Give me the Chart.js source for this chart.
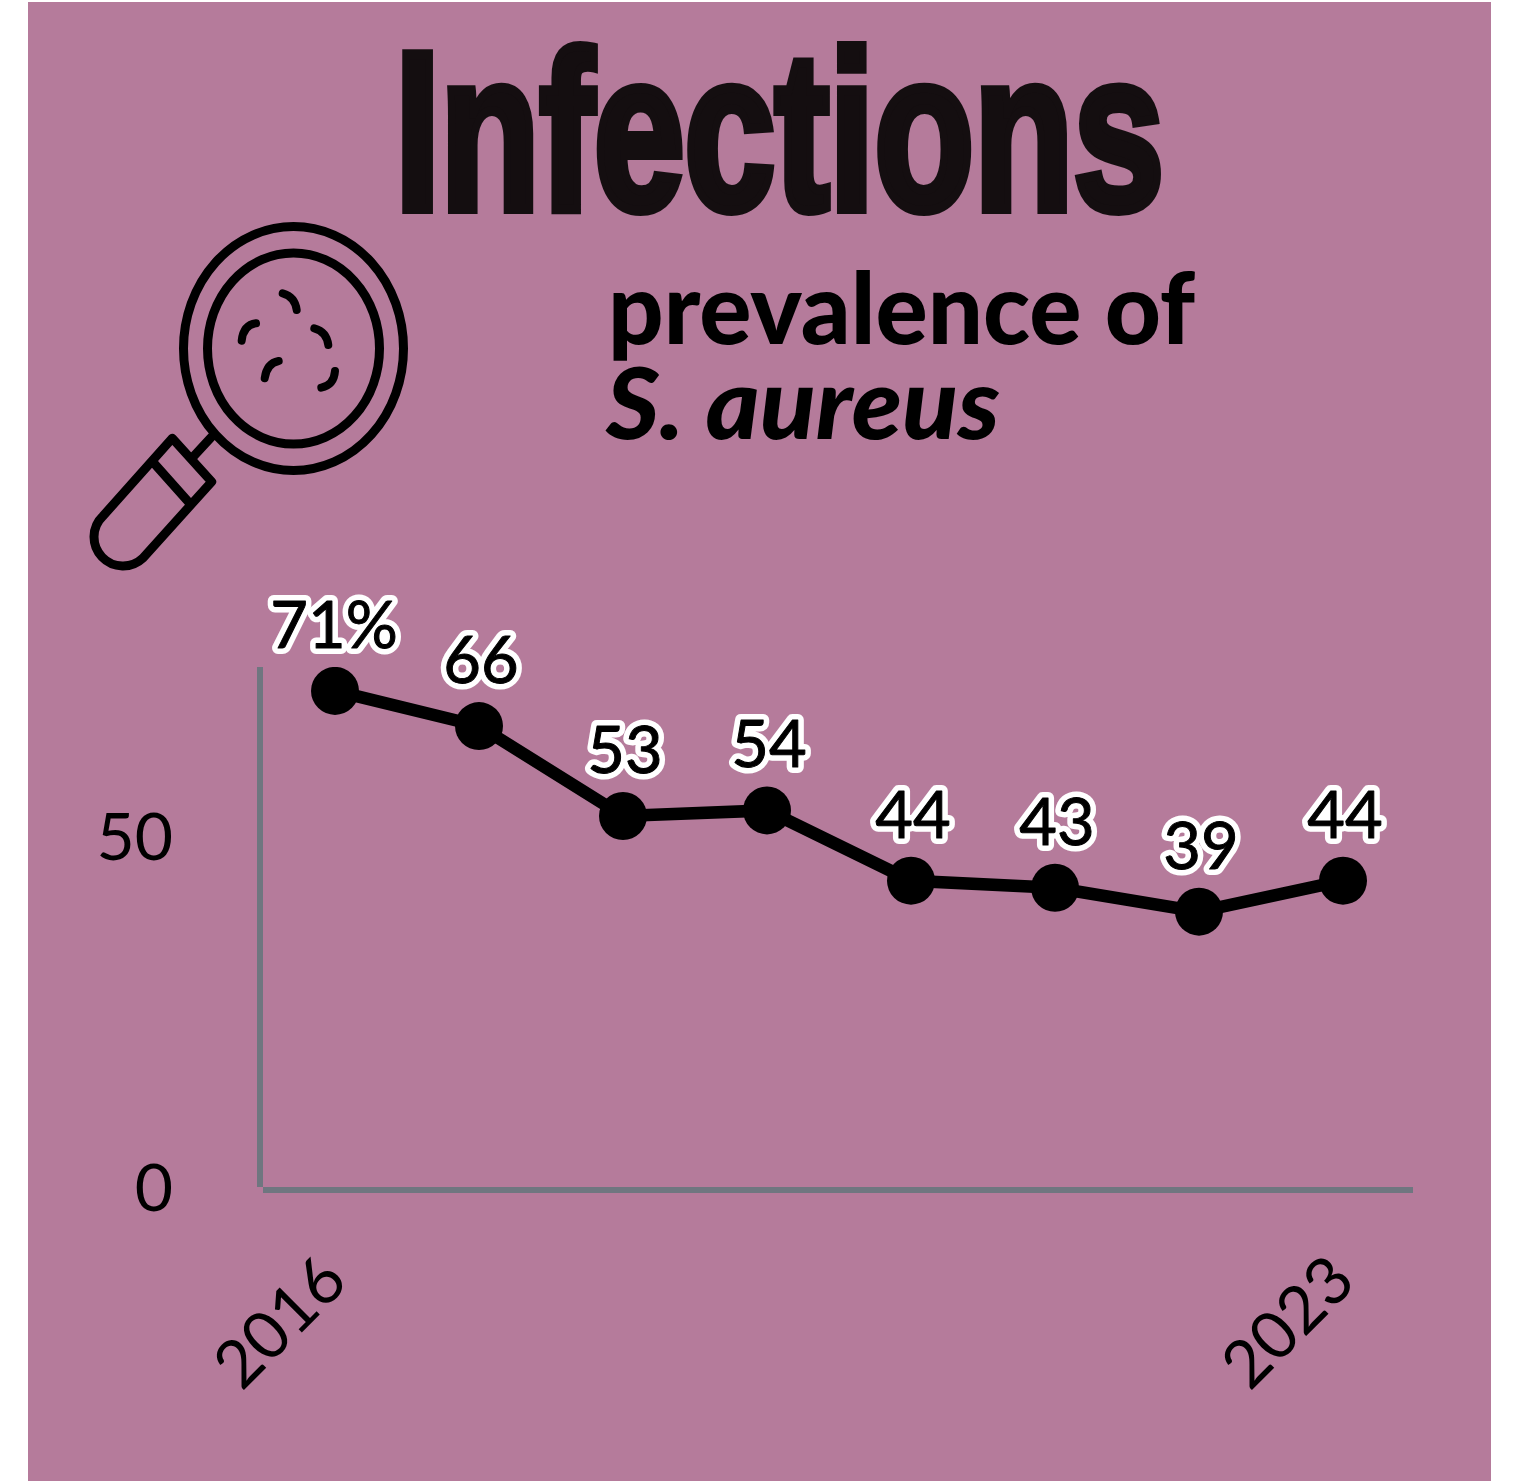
<!DOCTYPE html>
<html>
<head>
<meta charset="utf-8">
<title>Infections</title>
<script src="https://cdn.jsdelivr.net/npm/chart.js@4"></script>
<style>
html, body { margin: 0; padding: 0; background: #fff; }
#page { position: relative; width: 1524px; height: 1481px; overflow: hidden; }
#panel { position: absolute; left: 28px; top: 2px; width: 1463px; height: 1479px; background: #b57b9b; }
#chart { position: absolute; left: 0; top: 0; }
#icon { position: absolute; left: 0; top: 0; }
.head { position: absolute; left: 0; top: 0; white-space: nowrap; transform-origin: 0 0; line-height: 1; }
#title { font: 700 224px "Liberation Sans Narrow", "Liberation Sans", sans-serif; color: #140e10; -webkit-text-stroke: 10px #140e10; }
#sub1, #sub2 { font: 900 100px Lato, sans-serif; color: #000; }
#sub2 { font-style: italic; }
</style>
</head>
<body>
<div id="page">
    <div id="panel"></div>
    <svg id="icon" width="1524" height="1481" fill="none" stroke="#000" stroke-width="9" stroke-linecap="round" stroke-linejoin="round">
        <ellipse cx="293.5" cy="348.5" rx="110" ry="122"/>
        <ellipse cx="293.5" cy="348.5" rx="86" ry="95.5"/>
        <path d="M211.7 436.7 L193 457"/>
        <path d="M172.3 438.3 L211.7 481.7 L143 558 A28 28 0 0 1 103 516 Z"/>
        <path d="M154 463.3 L188.3 501.7"/>
        <path stroke-width="8" d="M282.7 293.3 Q295 296.7 296.7 310"/>
        <path stroke-width="8" d="M256 323.3 Q243.3 325 241.7 340.7"/>
        <path stroke-width="8" d="M314.3 328.3 Q326.7 331.7 328.3 345"/>
        <path stroke-width="8" d="M278.7 361 Q266.7 363.3 264.7 378.3"/>
        <path stroke-width="8" d="M335 371 Q334 385 321.3 387.7"/>
    </svg>
    <div id="title" class="head">Infections</div>
    <div id="sub1" class="head">prevalence of</div>
    <div id="sub2" class="head">S. aureus</div>
    <canvas id="chart" width="1524" height="1481"></canvas>
</div>
<script>
const years = ['2016', '2017', '2018', '2019', '2020', '2021', '2022', '2023'];
const prevalence = [71, 66, 53.2, 54, 44, 43, 39.6, 44];
const valueLabels = ['71%', '66', '53', '54', '44', '43', '39', '44'];
const yTicks = [0, 50];
const shownYears = ['2016', '2023'];

// Put a heading on its baseline and squeeze it to the width it has in the picture
function placeHeading(id, left, baseline, width) {
    const el = document.getElementById(id);
    const textWidth = el.getBoundingClientRect().width;
    const probe = document.createElement('span');
    probe.style.cssText = 'display:inline-block;width:0;height:0';
    el.appendChild(probe);
    const baselineOffset = probe.getBoundingClientRect().bottom - el.getBoundingClientRect().top;
    el.removeChild(probe);
    el.style.left = left + 'px';
    el.style.top = (baseline - baselineOffset) + 'px';
    el.style.transform = `scaleX(${width / textWidth})`;
}

// Data labels: white outline, black figures
const valueLabelPlugin = {
    id: 'valueLabels',
    afterDatasetsDraw(chart) {
        const ctx = chart.ctx;
        const points = chart.getDatasetMeta(0).data;
        ctx.save();
        ctx.font = '65px Lato';
        ctx.textAlign = 'center';
        ctx.textBaseline = 'alphabetic';
        ctx.lineJoin = 'round';
        points.forEach((point, i) => {
            const x = point.x + (i === 0 ? -1 : 2);
            const y = point.y - 43;
            ctx.strokeStyle = '#fff';
            ctx.lineWidth = 12;
            ctx.strokeText(valueLabels[i], x, y);
            ctx.strokeStyle = '#000';
            ctx.lineWidth = 1;
            ctx.strokeText(valueLabels[i], x, y);
            ctx.fillStyle = '#000';
            ctx.fillText(valueLabels[i], x, y);
        });
        ctx.restore();
    }
};

// The two axis lines do not quite meet in the picture
const axisLinePlugin = {
    id: 'axisLines',
    beforeDatasetsDraw(chart) {
        const ctx = chart.ctx;
        const area = chart.chartArea;
        ctx.save();
        ctx.strokeStyle = '#6f7680';
        ctx.lineWidth = 6;
        ctx.beginPath();
        ctx.moveTo(area.left - 3, area.top);
        ctx.lineTo(area.left - 3, area.bottom - 3);
        ctx.moveTo(area.left, area.bottom);
        ctx.lineTo(area.right - 2, area.bottom);
        ctx.stroke();
        ctx.restore();
    }
};

function drawChart() {
    placeHeading('title', 395, 209, 769);
    placeHeading('sub1', 608, 344, 587);
    placeHeading('sub2', 606, 439, 394);

    new Chart(document.getElementById('chart'), {
        type: 'line',
        data: {
            labels: years,
            datasets: [{
                data: prevalence,
                borderColor: '#000',
                backgroundColor: '#000',
                borderWidth: 12.5,
                tension: 0,
                pointRadius: 24,
                pointHoverRadius: 24,
                pointBackgroundColor: '#000',
                pointBorderWidth: 0
            }]
        },
        options: {
            responsive: false,
            animation: false,
            events: [],
            layout: { padding: { left: 0, right: 109, top: 667, bottom: 0 } },
            plugins: {
                legend: { display: false },
                tooltip: { enabled: false }
            },
            scales: {
                x: {
                    type: 'category',
                    offset: true,
                    grid: { display: false },
                    border: { display: false },
                    afterFit(scale) { scale.height = 291; },
                    ticks: {
                        autoSkip: false,
                        minRotation: 45,
                        maxRotation: 45,
                        padding: 43,
                        color: '#000',
                        font: { family: 'Lato', size: 66 },
                        callback(value) {
                            const label = this.getLabelForValue(value);
                            return shownYears.includes(label) ? label : '';
                        }
                    }
                },
                y: {
                    min: 0,
                    max: 74.4,
                    grid: { display: false },
                    border: { display: false },
                    afterFit(scale) { scale.width = 263; },
                    afterBuildTicks(scale) { scale.ticks = yTicks.map(value => ({ value })); },
                    ticks: {
                        padding: 82,
                        color: '#000',
                        font: { family: 'Lato', size: 66 }
                    }
                }
            }
        },
        plugins: [axisLinePlugin, valueLabelPlugin]
    });
}

document.fonts.ready.then(drawChart);
</script>
</body>
</html>
